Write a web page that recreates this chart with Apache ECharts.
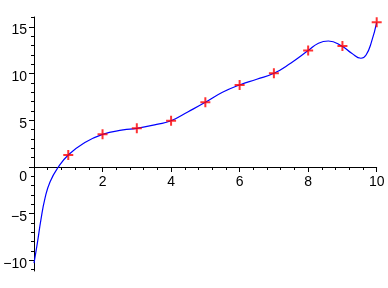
<!DOCTYPE html>
<html>
<head>
<meta charset="utf-8">
<script src="https://cdn.jsdelivr.net/npm/echarts@6/dist/echarts.min.js"></script>
<style>html,body{margin:0;padding:0;background:#fff;}#c{width:388px;height:288px;}</style>
</head>
<body>
<div id="c"></div>
<script>
// data
var pointX = [1, 2, 3, 4, 5, 6, 7, 8, 9, 10];
var pointY = [1.29, 3.5, 4.14, 4.96, 6.93, 8.79, 10.04, 12.47, 12.97, 15.5];
var curveX = [0, 0.1, 0.2, 0.32, 0.47, 0.71, 1.0, 1.45, 2.0, 2.6, 3.0, 3.58, 4.0, 4.5, 5.0, 5.5, 6.0, 6.5, 7.0, 7.5, 8.0, 8.3, 8.59, 8.98, 9.27, 9.54, 9.69, 9.85, 10];
var curveY = [-10.3, -8.1, -5.7, -3.36, -1.57, 0, 1.29, 2.55, 3.5, 3.97, 4.14, 4.57, 4.96, 5.93, 6.93, 8.0, 8.79, 9.4, 10.04, 11.15, 12.47, 13.26, 13.5, 12.97, 12.19, 11.65, 12.0, 13.43, 15.5];
var xTickLabels = [2, 4, 6, 8, 10];
var yTickLabels = [-10, -5, 0, 5, 10, 15];
var yMinorTicks = [-11, -10, -9, -8, -7, -6, -5, -4, -3, -2, -1, 0, 1, 2, 3, 4, 5, 6, 7, 8, 9, 10, 11, 12, 13, 14, 15, 16];

function zip(a, b) { return a.map(function (v, i) { return [v, b[i]]; }); }
function fmt(v) { return v < 0 ? '\u2212' + Math.abs(v) : String(v); }

var FONT = 'Liberation Sans';
var W = 388, H = 288;
var G = { left: 34, right: 11.3, top: 17, bottom: 17, containLabel: false };
var YMIN = -11.14, YMAX = 16.07;
// x axis crosses y = 0: shift it up from the grid bottom by the scale position of 0
var plotH = H - G.top - G.bottom;
var zeroOffset = -(0 - YMIN) / (YMAX - YMIN) * plotH;

var chart = echarts.init(document.getElementById('c'));
chart.setOption({
  animation: false,
  backgroundColor: '#fff',
  grid: [G, G],
  xAxis: [{
    gridIndex: 0, type: 'value', min: 0, max: 10, interval: 2,
    position: 'bottom', offset: zeroOffset,
    axisLine: { show: true, onZero: false, lineStyle: { color: '#000', width: 1 } },
    axisTick: { show: true, length: 5, lineStyle: { color: '#000' } },
    minorTick: { show: true, splitNumber: 5, length: 3, lineStyle: { color: '#000' } },
    splitLine: { show: false },
    axisLabel: {
      customValues: xTickLabels, margin: 8, color: '#000', fontFamily: FONT, fontSize: 14,
      formatter: function (v) { return fmt(v); }
    }
  }, {
    gridIndex: 1, type: 'value', min: 0, max: 10, show: false
  }],
  yAxis: [{
    gridIndex: 0, type: 'value', min: YMIN, max: YMAX,
    axisLine: { show: true, onZero: false, lineStyle: { color: '#000', width: 1 } },
    axisTick: { show: true, customValues: yTickLabels, length: 5, lineStyle: { color: '#000' } },
    splitLine: { show: false },
    axisLabel: {
      customValues: yTickLabels, margin: 7, color: '#000', fontFamily: FONT, fontSize: 14,
      verticalAlign: 'top',
      formatter: function (v) { return v === 0 ? '{z|0}' : '{n|' + fmt(v) + '}'; },
      rich: {
        n: { fontFamily: FONT, fontSize: 14, color: '#000', lineHeight: 7 },
        z: { fontFamily: FONT, fontSize: 14, color: '#000', lineHeight: 21 }
      }
    }
  }, {
    gridIndex: 1, type: 'value', min: YMIN, max: YMAX,
    axisLine: { show: false, onZero: false },
    axisTick: { show: true, customValues: yMinorTicks, length: 3, lineStyle: { color: '#000' } },
    splitLine: { show: false },
    axisLabel: { show: false }
  }],
  series: [{
    type: 'line', xAxisIndex: 0, yAxisIndex: 0, data: zip(curveX, curveY), smooth: 0.5,
    showSymbol: false, lineStyle: { color: '#0000ff', width: 1.2 }, z: 2
  }, {
    type: 'scatter', xAxisIndex: 0, yAxisIndex: 0, data: zip(pointX, pointY),
    symbol: 'path://M4,0H6V4H10V6H6V10H4V6H0V4H4Z', symbolSize: 10,
    itemStyle: { color: '#ff0000' }, z: 3
  }]
});
</script>
</body>
</html>
